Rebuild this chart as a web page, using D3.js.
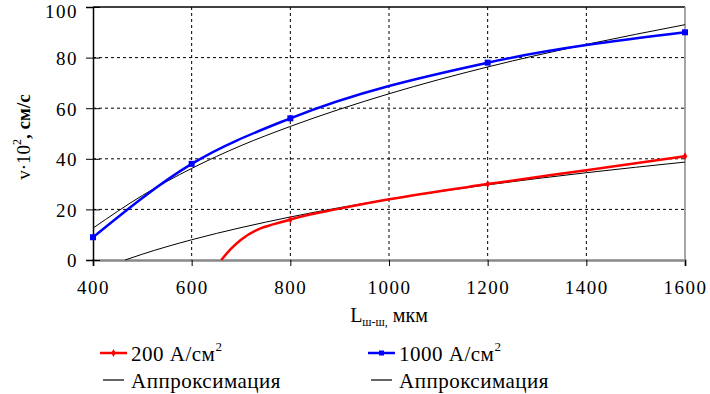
<!DOCTYPE html>
<html>
<head>
<meta charset="utf-8">
<script src="https://cdn.jsdelivr.net/npm/d3@7"></script>
<style>
  html, body { margin: 0; padding: 0; background: #fff; }
  svg { display: block; }
  svg text { font-family: "Liberation Serif", "Times New Roman", Tinos, "DejaVu Serif", "Noto Serif", serif; fill: #000; }
</style>
</head>
<body>
<div id="chart"></div>
<script>
const SERIF = '"Liberation Serif", "Times New Roman", Tinos, "DejaVu Serif", "Noto Serif", serif';

// axis ticks
const xTicks = [400, 600, 800, 1000, 1200, 1400, 1600];
const yTicks = [0, 20, 40, 60, 80, 100];

// 1000 A/cm2 measured
const blueL = [400, 600, 800, 1200, 1600];
const blueV = [9, 38, 56, 78, 90];

// 200 A/cm2 measured
const redL = [660, 680, 700, 800, 900, 1000, 1200, 1400, 1600];
const redV = [0, 4.5, 8, 16, 20.3, 24, 30, 35.5, 41];
const redMarkL = [800, 1200, 1600];
const redMarkV = [16, 30, 41];

// approximation curves
const fitBlueL = [400, 500, 600, 700, 800, 1000, 1200, 1400, 1600];
const fitBlueV = [12.6, 25.5, 36.2, 45.2, 52.8, 65.7, 76.3, 85.2, 93];
const fitRedL = [465, 500, 600, 700, 800, 1000, 1200, 1400, 1600];
const fitRedV = [0, 2.3, 8, 12.8, 17, 24, 29.7, 34.5, 38.7];

const W = 710, H = 394;
const m = { left: 93, right: 25, top: 7, bottom: 134 };

const svg = d3.select('#chart').append('svg')
  .attr('width', W).attr('height', H)
  .attr('font-family', SERIF);

const x = d3.scaleLinear().domain([400, 1600]).range([m.left, W - m.right]);
const y = d3.scaleLinear().domain([0, 100]).range([H - m.bottom, m.top]);

// grid
const grid = svg.append('g');
xTicks.slice(1, -1).forEach(t => {
  grid.append('line')
    .attr('x1', x(t)).attr('x2', x(t)).attr('y1', y(100)).attr('y2', y(0))
    .attr('stroke', '#000').attr('stroke-width', 1).attr('stroke-dasharray', '3,3');
});
yTicks.slice(1, -1).forEach(t => {
  grid.append('line')
    .attr('x1', x(400)).attr('x2', x(1600)).attr('y1', y(t)).attr('y2', y(t))
    .attr('stroke', '#000').attr('stroke-width', 1).attr('stroke-dasharray', '3,3');
});

// frame
svg.append('line').attr('x1', x(400)).attr('x2', x(1600)).attr('y1', y(100)).attr('y2', y(100))
  .attr('stroke', '#000').attr('stroke-width', 1.5);
svg.append('line').attr('x1', x(1600)).attr('x2', x(1600)).attr('y1', y(100)).attr('y2', y(0))
  .attr('stroke', '#888').attr('stroke-width', 1.5);

// axes
const xAxis = svg.append('g')
  .attr('transform', `translate(0,${y(0)})`)
  .call(d3.axisBottom(x).tickValues(xTicks).tickSize(6).tickPadding(15).tickFormat(d3.format('d')))
  .attr('font-family', SERIF).attr('font-size', 19);
xAxis.select('.domain').attr('stroke', '#888').attr('stroke-width', 2.5);
xAxis.selectAll('.tick line').attr('stroke', '#000');
xAxis.selectAll('.tick text').attr('letter-spacing', 1.5);

const yAxis = svg.append('g')
  .attr('transform', `translate(${x(400)},0)`)
  .call(d3.axisLeft(y).tickValues(yTicks).tickSize(7).tickPadding(8).tickFormat(d3.format('d')))
  .attr('font-family', SERIF).attr('font-size', 19);
yAxis.select('.domain').attr('stroke', '#000').attr('stroke-width', 1.5);
yAxis.selectAll('.tick line').attr('stroke', '#000').attr('x2', 7).attr('x1', -7);
yAxis.selectAll('.tick text').attr('letter-spacing', 1.5)
  .attr('dy', d => d === 100 ? '0.55em' : '0.36em');

// lines
const line = d3.line().x(d => x(d[0])).y(d => y(d[1])).curve(d3.curveMonotoneX);
const zip = (a, b) => a.map((v, i) => [v, b[i]]);

svg.append('path').datum(zip(fitRedL, fitRedV))
  .attr('d', line).attr('fill', 'none').attr('stroke', '#000').attr('stroke-width', 1);
svg.append('path').datum(zip(fitBlueL, fitBlueV))
  .attr('d', line).attr('fill', 'none').attr('stroke', '#000').attr('stroke-width', 1);

svg.append('path').datum(zip(redL, redV))
  .attr('d', line).attr('fill', 'none').attr('stroke', '#f00').attr('stroke-width', 2.5);
svg.append('path').datum(zip(blueL, blueV))
  .attr('d', line).attr('fill', 'none').attr('stroke', '#00f').attr('stroke-width', 2.5);

svg.append('g').selectAll('rect').data(zip(blueL, blueV)).join('rect')
  .attr('x', d => x(d[0]) - 3).attr('y', d => y(d[1]) - 3)
  .attr('width', 6).attr('height', 6).attr('fill', '#00f');
svg.append('g').selectAll('path').data(zip(redMarkL, redMarkV)).join('path')
  .attr('d', d3.symbol(d3.symbolDiamond, 18))
  .attr('transform', d => `translate(${x(d[0])},${y(d[1])})`)
  .attr('fill', '#f00');

// axis titles
const xt = svg.append('text')
  .attr('x', 389).attr('y', 322).attr('text-anchor', 'middle').attr('font-size', 20);
xt.append('tspan').text('L');
xt.append('tspan').attr('font-size', 12).attr('dy', 4).text('ш-ш,');
xt.append('tspan').attr('dy', -4).text(' мкм');

const yt = svg.append('text')
  .attr('transform', 'translate(30,137) rotate(-90)')
  .attr('text-anchor', 'middle').attr('font-size', 19);
yt.append('tspan').text('v·10');
yt.append('tspan').attr('font-size', 12).attr('dy', -9).text('2');
yt.append('tspan').attr('dy', 9).attr('font-weight', 'bold').text(', см/с');

// legend
const legend = [
  { x: 100, y: 353, color: '#f00', mark: 'diamond', label: '200 А/см', sup: '2' },
  { x: 368, y: 353, color: '#00f', mark: 'square', label: '1000 А/см', sup: '2' },
  { x: 100, y: 380, color: '#000', mark: null, label: 'Аппроксимация' },
  { x: 368, y: 380, color: '#000', mark: null, label: 'Аппроксимация' }
];
legend.forEach(d => {
  const g = svg.append('g');
  g.append('line')
    .attr('x1', d.x + (d.mark ? 0 : 3)).attr('x2', d.x + (d.mark ? 27 : 24))
    .attr('y1', d.y).attr('y2', d.y)
    .attr('stroke', d.color).attr('stroke-width', d.mark ? 2.5 : 1.2);
  if (d.mark === 'diamond') {
    g.append('path').attr('d', d3.symbol(d3.symbolDiamond, 18)())
      .attr('transform', `translate(${d.x + 13.5},${d.y})`).attr('fill', d.color);
  } else if (d.mark === 'square') {
    g.append('rect').attr('x', d.x + 11).attr('y', d.y - 2.5)
      .attr('width', 5).attr('height', 5).attr('fill', d.color);
  }
  const t = g.append('text').attr('x', d.x + 31).attr('y', d.y + 8)
    .attr('font-size', 21).attr('letter-spacing', 0.5);
  t.append('tspan').text(d.label);
  if (d.sup) t.append('tspan').attr('font-size', 13).attr('dy', -10).text(d.sup);
});
</script>
</body>
</html>
